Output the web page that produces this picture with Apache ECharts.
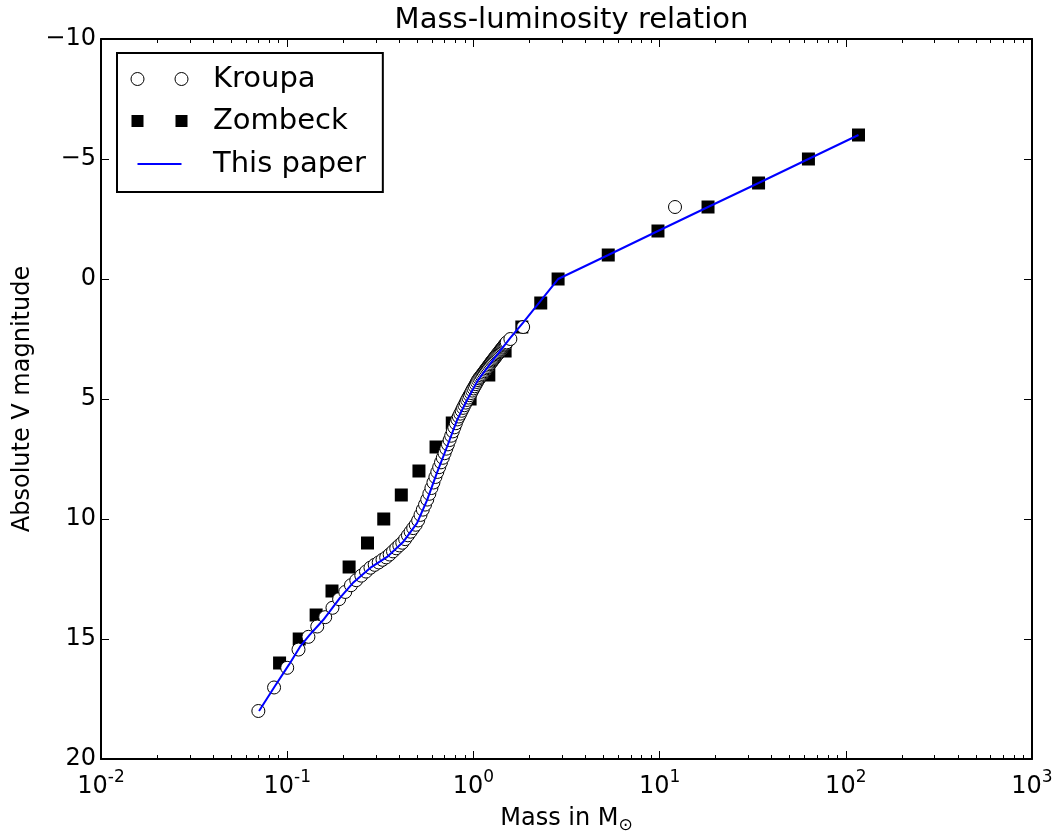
<!DOCTYPE html>
<html>
<head>
<meta charset="utf-8">
<script src="https://cdn.jsdelivr.net/npm/echarts@6/dist/echarts.min.js"></script>
<style>
html,body{margin:0;padding:0;background:#fff;}
#chart{width:1053px;height:837px;}
</style>
</head>
<body>
<div id="chart"></div>
<script>
// ---- data ----
const kroupaMass = [
  0.070,0.085,0.100,0.115,0.130,0.145,0.160,0.175,0.190,0.205,
  0.220,0.235,0.250,0.265,0.280,0.295,0.310,0.325,0.340,0.355,
  0.370,0.385,0.400,0.415,0.430,0.445,0.460,0.475,0.490,0.505,
  0.520,0.535,0.550,0.565,0.580,0.595,0.610,0.625,0.640,0.655,
  0.670,0.685,0.700,0.715,0.730,0.745,0.760,0.775,0.790,0.805,
  0.820,0.835,0.850,0.865,0.880,0.895,0.910,0.925,0.940,0.955,
  0.970,0.985,1.000,1.015,1.030,1.045,1.060,1.075,1.090,1.105,
  1.120,1.135,1.150,1.165,1.180,1.195,1.210,1.225,1.240,1.255,
  1.270,1.285,1.300,1.315,1.330,1.345,1.360,1.375,1.390,1.405,
  1.420,1.435,1.450,1.465,1.480,1.495,1.510,
  1.58,1.85,12.1
];
const kroupaMag = [
  18.00,17.02,16.20,15.44,14.91,14.48,14.09,13.70,13.34,13.04,
  12.76,12.55,12.36,12.19,12.03,11.91,11.81,11.70,11.60,11.48,
  11.35,11.22,11.10,10.99,10.84,10.68,10.53,10.38,10.24,10.06,
  9.83,9.61,9.40,9.19,8.95,8.71,8.48,8.25,8.04,7.84,
  7.64,7.45,7.26,7.07,6.89,6.71,6.53,6.35,6.18,6.01,
  5.85,5.73,5.61,5.49,5.37,5.26,5.15,5.04,4.94,4.84,
  4.75,4.65,4.56,4.47,4.38,4.29,4.21,4.14,4.08,4.02,
  3.96,3.90,3.84,3.78,3.72,3.67,3.61,3.55,3.50,3.44,
  3.39,3.34,3.29,3.24,3.19,3.14,3.10,3.05,3.00,2.95,
  2.91,2.86,2.82,2.77,2.73,2.69,2.64,
  2.50,2.00,-3.00
];
const zombeckMass = [117,63,34,18.2,9.8,5.3,2.85,2.3,1.82,1.48,1.21,0.96,0.77,0.63,0.51,0.41,0.33,0.27,0.215,0.174,0.143,0.116,0.091];
const zombeckMag  = [-6,-5,-4,-3,-2,-1,0,1,2,3,4,5,6,7,8,9,10,11,12,13,14,15,16];
const paperMass = [0.0706,0.086,0.102,0.117,0.132,0.156,0.192,0.225,0.279,0.344,0.419,0.498,0.564,0.637,0.721,0.817,0.925,1.059,1.274,1.574,1.845,2.85,5.3,9.8,18.2,34,63,117];
const paperMag  = [18.0,16.96,16.08,15.33,14.83,14.21,13.29,12.67,12.04,11.58,10.96,10.17,9.21,8.08,7.00,5.88,5.04,4.21,3.38,2.46,1.83,0,-1,-2,-3,-4,-5,-6];
const xDecades = [0.01,0.1,1,10,100,1000];
const yTicks = [-10,-5,0,5,10,15,20];

// ---- build ----
const zip = (a,b) => a.map((v,i) => [v,b[i]]);
const minorLog = [];
for (let d = 0; d < xDecades.length - 1; d++) {
  for (let k = 2; k <= 9; k++) minorLog.push(Math.log10(k * xDecades[d]));
}
const FONT = 'DejaVu Sans';
const axisLineStyle = {color:'#000', width:2};

const chart = echarts.init(document.getElementById('chart'), null, {renderer:'canvas'});
const twoCircles = 'path://M0,0 M77,14 M0,7 a6.5,6.5 0 1,0 13,0 a6.5,6.5 0 1,0 -13,0 M44,7 a6.5,6.5 0 1,0 13,0 a6.5,6.5 0 1,0 -13,0';
const twoSquares = 'path://M0,0 M77,14 M0.5,0.5 h12 v12 h-12 z M44.5,0.5 h12 v12 h-12 z';
const lineIcon = 'path://M0,0 M77,14 M6.5,6 h44 v2 h-44 z';

chart.setOption({
  animation: false,
  backgroundColor: '#fff',
  textStyle: {fontFamily: FONT},
  title: {
    text: 'Mass-luminosity relation',
    left: 566.5, textAlign: 'center', top: 1,
    textStyle: {fontFamily: FONT, fontSize: 29, fontWeight: 'normal', color: '#000'}
  },
  legend: {
    left: 117, top: 53, orient: 'vertical',
    backgroundColor: '#fff', borderColor: '#000', borderWidth: 2, borderRadius: 0,
    padding: [11, 17, 13, 13.5],
    itemWidth: 77, itemHeight: 14, itemGap: 12.5,
    selectedMode: false,
    textStyle: {fontFamily: FONT, fontSize: 29, color: '#000', lineHeight: 30},
    data: [
      {name: 'Kroupa', icon: twoCircles, itemStyle: {color: '#fff', borderColor: '#000', borderWidth: 1, opacity: 1}},
      {name: 'Zombeck', icon: twoSquares, itemStyle: {color: '#000', borderWidth: 0, opacity: 1}},
      {name: 'This paper', icon: lineIcon, itemStyle: {color: '#0000ff', borderWidth: 0, opacity: 1}}
    ]
  },
  grid: {left: 101, right: 21, top: 39, bottom: 78, containLabel: false, outerBoundsMode: 'none'},
  xAxis: [
    {
      type: 'log', logBase: 10, min: 0.01, max: 1000, position: 'bottom',
      axisLine: {show: true, onZero: false, lineStyle: axisLineStyle},
      axisTick: {show: true, inside: true, length: 8, lineStyle: {color:'#000', width: 1}},
      splitLine: {show: false},
      axisLabel: {
        margin: 10, color: '#000',
        formatter: v => '{b|10}{s|' + Math.round(Math.log10(v)) + '}',
        rich: {
          b: {fontFamily: FONT, fontSize: 24, color: '#000', lineHeight: 30, verticalAlign: 'bottom'},
          s: {fontFamily: FONT, fontSize: 17, color: '#000', lineHeight: 30, verticalAlign: 'top'}
        }
      },
      name: 'Mass in M{sub|⊙}', nameLocation: 'middle', nameGap: 44,
      nameTextStyle: {
        fontFamily: FONT, fontSize: 24, color: '#000',
        rich: {sub: {fontFamily: FONT, fontSize: 17, color: '#000', padding: [14, 0, 0, 0]}}
      }
    },
    {
      type: 'log', logBase: 10, min: 0.01, max: 1000, position: 'top',
      axisLine: {show: true, onZero: false, lineStyle: axisLineStyle},
      axisTick: {show: true, inside: true, length: 8, lineStyle: {color:'#000', width: 1}},
      axisLabel: {show: false}, splitLine: {show: false}
    },
    {
      type: 'value', min: -2, max: 3, position: 'bottom',
      axisLine: {show: false, onZero: false},
      axisTick: {show: true, inside: true, length: 4, customValues: minorLog, lineStyle: {color:'#000', width: 1}},
      axisLabel: {show: false}, splitLine: {show: false}
    },
    {
      type: 'value', min: -2, max: 3, position: 'top',
      axisLine: {show: false, onZero: false},
      axisTick: {show: true, inside: true, length: 4, customValues: minorLog, lineStyle: {color:'#000', width: 1}},
      axisLabel: {show: false}, splitLine: {show: false}
    }
  ],
  yAxis: [
    {
      type: 'value', inverse: true, min: -10, max: 20, interval: 5, position: 'left',
      axisLine: {show: true, onZero: false, lineStyle: axisLineStyle},
      axisTick: {show: true, inside: true, length: 8, lineStyle: {color:'#000', width: 1}},
      splitLine: {show: false},
      axisLabel: {
        margin: 5, color: '#000', fontFamily: FONT, fontSize: 24,
        formatter: v => String(v).replace('-', '\u2212')
      },
      name: 'Absolute V magnitude', nameLocation: 'middle', nameGap: 62, nameRotate: 90,
      nameTextStyle: {fontFamily: FONT, fontSize: 24, color: '#000'}
    },
    {
      type: 'value', inverse: true, min: -10, max: 20, interval: 5, position: 'right',
      axisLine: {show: true, onZero: false, lineStyle: axisLineStyle},
      axisTick: {show: true, inside: true, length: 8, lineStyle: {color:'#000', width: 1}},
      splitLine: {show: false}, axisLabel: {show: false}
    }
  ],
  series: [
    {
      name: 'Zombeck', type: 'scatter', xAxisIndex: 0, yAxisIndex: 0,
      symbol: 'rect', symbolSize: 13,
      itemStyle: {color: '#000', opacity: 1},
      data: zip(zombeckMass, zombeckMag), z: 2, emphasis: {disabled: true}
    },
    {
      name: 'Kroupa', type: 'scatter', xAxisIndex: 0, yAxisIndex: 0,
      symbol: 'circle', symbolSize: 13,
      itemStyle: {color: '#fff', borderColor: '#000', borderWidth: 1, opacity: 1},
      data: zip(kroupaMass, kroupaMag), z: 3, emphasis: {disabled: true}
    },
    {
      name: 'This paper', type: 'line', xAxisIndex: 0, yAxisIndex: 0,
      showSymbol: false, symbol: 'none',
      lineStyle: {color: '#0000ff', width: 2}, itemStyle: {color: '#0000ff'},
      data: zip(paperMass, paperMag), z: 4, emphasis: {disabled: true}
    }
  ]
});
</script>
</body>
</html>
